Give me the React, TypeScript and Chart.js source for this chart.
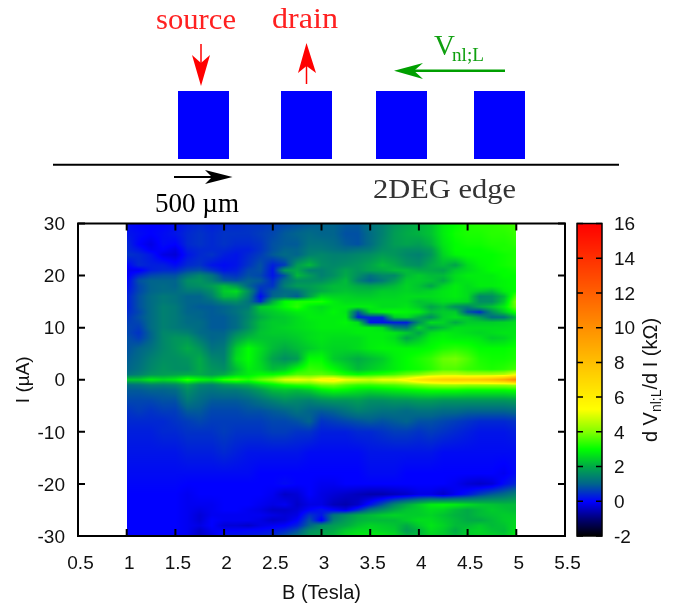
import React, { useEffect, useRef } from "react";
import { Chart, registerables } from "chart.js";

Chart.register(...registerables);

// Magnetic field columns (Tesla)
const fieldB = [1, 1.125, 1.25, 1.375, 1.5, 1.625, 1.75, 1.875, 2, 2.125, 2.25, 2.375, 2.5, 2.625, 2.75, 2.875, 3, 3.125, 3.25, 3.375, 3.5, 3.625, 3.75, 3.875, 4, 4.125, 4.25, 4.375, 4.5, 4.625, 4.75, 4.875, 5];
// Current rows (uA)
const currentI = [30, 28, 26, 25, 24, 22, 21, 20, 19, 18, 17, 16, 15, 14, 13, 12, 11, 10, 9, 8, 6, 4, 2, 1, 0, -1, -2, -4, -6, -8, -10, -14, -18, -20, -22, -24, -25, -26, -27, -28, -29, -30];

const rowP30 = [.1, 0, 0, 0, .1, .3, .4, .3, .4, .4, .5, .5, .6, .7, .8, .9, 1, 1, .9, .9, 1.2, 1.4, 1.7, 1.9, 2.1, 2.3, 2.8, 3, 3.2, 3.3, 3.3, 3.4, 3.5];
const rowP28 = [.2, .1, 0, .1, .2, .4, .5, .4, .5, .5, .5, .6, .7, .9, 1, 1.1, 1, 1, .8, .8, 1.1, 1.4, 1.8, 2, 2.1, 2.3, 2.8, 3.1, 3.2, 3.2, 3.3, 3.3, 3.4];
const rowP26 = [.4, 0, -.2, .1, 0, .4, .5, .4, .5, .4, .4, .5, .8, .9, .9, 1.2, 1.2, 1.1, .9, .8, 1.1, 1.5, 1.8, 1.9, 1.8, 2.1, 2.7, 3, 3.1, 3.1, 3.2, 3.2, 3.3];
const rowP25 = [.4, .2, -.1, 0, -.2, .3, .4, .4, .4, .3, .3, .5, .8, 1, 1, 1.3, 1.3, 1.2, 1.1, 1.2, 1.3, 1.6, 1.7, 1.6, 1.6, 1.8, 2.6, 3, 3, 3, 3.1, 3.2, 3.2];
const rowP24 = [.5, .4, .2, -.2, -.3, .2, .4, .5, .3, .2, .4, .6, .9, 1.1, 1, 1.4, 1.5, 1.4, 1.4, 1.5, 1.6, 1.8, 1.7, 1.5, 1.4, 1.7, 2.5, 2.9, 3, 3, 3, 3.1, 3.2];
const rowP22 = [0, .4, .3, .3, .1, .4, .5, .2, .1, .2, .5, .8, .3, .6, 1.8, 2.2, 1.6, 1.5, 1.6, 1.7, 1.9, 2.2, 2, 1.7, 1.6, 2, 2.2, 1.9, 2.6, 2.9, 3, 3.1, 3.2];
const rowP21 = [-.1, -.1, .3, .4, .4, .7, .8, .5, .2, .3, .7, .8, .2, 1.8, 2, 1.4, 1.4, 1.6, 1.9, 1.7, 1.9, 2, 2.2, 2.2, 2, 2, 1.9, 2.4, 2.6, 2.8, 3, 3, 3.1];
const rowP20 = [-.1, .4, .7, .8, .8, 1.2, 1.5, 1.2, .6, .5, .8, .7, .2, .8, 2.2, 1.8, 1.4, 1.6, 2, 1.6, 1.2, 1.5, 1.5, 2.2, 2.4, 2.2, 2.2, 2.6, 2.8, 2.8, 2.8, 3, 3];
const rowP19 = [0, .8, 1, 1, 1, 1.6, 1.7, 1.4, .9, .8, 1, .9, .4, 1.2, 1.6, 1.6, 1.6, 1.9, 2.2, 1.4, 1, 1.3, 1.8, 2.4, 2.4, 2.3, 2, 2.6, 2.7, 2.8, 2.8, 2.9, 3];
const rowP18 = [.1, .7, 1, 1.1, 1, 1.5, 1.6, 1.8, 2.2, 1.8, 1, .6, .5, 1.4, 1.8, 1.8, 2, 2.2, 2.2, 2, 1.9, 2, 2.2, 2.5, 2.3, 1.9, 2.5, 2.8, 2.6, 2.8, 2.8, 2.9, 3];
const rowP17 = [.2, .7, 1, 1.1, 1.1, 1.3, 1.3, 1.6, 2.4, 2.6, 1.6, .4, .9, 1.1, 1.2, 1.7, 2, 2.2, 2.3, 2.2, 2.2, 2.4, 2.4, 2.5, 2.4, 2.5, 2.7, 2.8, 2.6, 2.4, 2.2, 2.8, 3];
const rowP16 = [.3, .8, 1.1, 1.3, 1.2, 1, 1, 1.4, 2.2, 2.2, 1.4, .1, 1, 1.2, .9, 1.8, 2.6, 2.5, 2.5, 2.4, 2.4, 2.5, 2.5, 2.6, 2.6, 2.6, 2.7, 2.8, 2.6, 1.5, 1.6, 2.2, 3.6];
const rowP15 = [.3, .8, 1.1, 1.3, 1.2, 1, 1, 1.1, 1.5, 1.6, 1.2, .4, 2, 3, 3.2, 3.2, 3.2, 2.8, 2.6, 2.6, 2.6, 2.6, 2.6, 2.6, 2.3, 2.4, 2.6, 2.6, 2.5, 1.6, 1.6, 2.4, 4];
const rowP14 = [.3, .8, 1.1, 1.4, 1.3, 1, .9, .9, 1, 1.2, 1.3, 2.4, 2.6, 3, 3.3, 2.8, 2.6, 2.8, 2.8, 2.8, 2.8, 2.6, 2.6, 2.7, 2.4, 1.9, 2.2, 1.6, 1.4, 2, 2.3, 2.8, 3.8];
const rowP13 = [.4, .7, 1.1, 1.4, 1.3, 1, 1, .9, 1, 1.2, 1.5, 2.2, 2.4, 2.6, 2.8, 2.8, 2.7, 2.9, 2.7, .8, 2.6, 2.9, 3, 2.9, 2.8, 2.2, 2.4, 2.4, .8, .4, 1.6, 2.4, 3.2];
const rowP12 = [.5, .8, 1.1, 1.4, 1.3, 1.1, 1, .9, .9, 1.1, 1.5, 2, 2.3, 2.4, 2.6, 2.8, 2.8, 2.8, 2.8, .3, .4, .4, 2.4, 2.6, 2, 1.6, 2.4, 2.6, 2.3, 1.8, 1.1, 1.2, 2.2];
const rowP11 = [.6, .7, 1.1, 1.4, 1.3, 1.1, 1.1, .9, .9, 1.1, 1.6, 2.2, 2.4, 2.4, 2.6, 2.7, 2.8, 2.8, 2.9, 2.6, .2, .2, .3, .3, 1.6, 2.6, 2.5, 2, 2.4, 2.4, 2.4, 2.5, 2.6];
const rowP10 = [.7, .6, 1.1, 1.4, 1.3, 1.2, 1.1, .9, .9, 1.1, 1.6, 2.2, 2.4, 2.5, 2.6, 2.7, 2.8, 2.8, 2.8, 2.8, 2.8, 2.6, 1.4, 1.2, 2.5, 1.9, 2.2, 2.6, 2.6, 2.6, 2.6, 2.6, 2.7];
const rowP9 = [.7, .5, 1, 1.5, 1.5, 1.4, 1.1, 1, 1, 1.5, 1.9, 2.3, 2.4, 2.4, 2.5, 2.6, 2.7, 2.7, 2.7, 2.8, 2.8, 2.8, 2.7, 2.4, 1.9, 2.6, 2.8, 2.7, 2.6, 2.5, 2.6, 2.7, 2.7];
const rowP8 = [.8, .6, 1, 1.5, 1.7, 1.7, 1.3, 1, 1.1, 1.8, 2.2, 2.3, 2.3, 2.3, 2.4, 2.6, 2.7, 2.6, 2.6, 2.6, 2.8, 2.8, 2.6, 1.9, 2.3, 2.8, 2.9, 2.8, 2.8, 2.7, 2.4, 2.5, 2.8];
const rowP6 = [.8, 1, 1.2, 1.5, 1.7, 2, 1.7, 1.2, 1.3, 2.4, 3, 2.6, 2.2, 2, 2.2, 2.4, 2.6, 2.5, 2.5, 2.6, 2.8, 2.9, 2.9, 2.9, 2.9, 3, 3.2, 3.3, 3.2, 3, 3, 3, 3.1];
const rowP4 = [.9, 1.1, 1.4, 1.6, 1.6, 1.7, 2, 1.5, 1.4, 2.6, 3, 2.5, 1.9, 1.6, 1.8, 3, 3, 2.4, 2.2, 2, 2.2, 2.4, 2.8, 3, 3.2, 3.4, 3.8, 3.9, 3.6, 3.2, 3.1, 3.1, 3.2];
const rowP2 = [1, 1.2, 1.5, 1.7, 1.6, 1.6, 2, 1.7, 1.6, 2.2, 2.8, 2.6, 2.2, 2.4, 3, 3.4, 3.3, 3, 2.6, 2.2, 2.4, 2.6, 2.8, 3, 3.1, 3.3, 3.6, 3.6, 3.4, 3.3, 3.2, 3.3, 3.5];
const rowP1 = [1.2, 1.4, 1.7, 1.8, 1.9, 2, 2, 1.8, 2, 2.5, 2.8, 3, 3, 3.2, 3.6, 3.6, 3.7, 3.5, 3.2, 3, 3.2, 3.3, 3.5, 3.8, 4, 4.4, 4.6, 4.6, 4.4, 4.4, 4.4, 4.5, 5.2];
const rowZero = [2.4, 2.4, 2.8, 2.6, 2.8, 3.4, 3, 2.8, 3.4, 3.6, 3.3, 3.8, 4.2, 5, 5.2, 5, 5.6, 5.8, 5.2, 5, 4.8, 5.2, 5.2, 5.6, 6.4, 7, 7.4, 7.6, 7.6, 7.8, 8.2, 9, 10.5];
const rowM1 = [1.1, 1.2, 1.4, 1.4, 1.5, 1.9, 1.5, 1.4, 1.7, 1.9, 2.1, 2.5, 2.8, 3.1, 3.3, 3.4, 3.8, 3.9, 3.6, 3.4, 3.4, 3.5, 3.6, 3.8, 4, 4.2, 4.3, 4.3, 4.2, 4.2, 4.2, 4.2, 4.3];
const rowM2 = [.9, .9, 1, 1, 1.1, 1.6, 1.3, 1.2, 1.3, 1.3, 1.5, 1.8, 2.2, 2.3, 2.2, 2.4, 2.8, 3, 2.9, 2.7, 2.6, 2.7, 2.8, 2.9, 3, 3.1, 3.1, 3.1, 3, 3, 3, 3, 3.1];
const rowM4 = [.7, .7, .7, .8, .8, 1.3, 1.1, .9, .9, .9, 1, 1.2, 1.4, 1.6, 1.5, 1.4, 1.6, 1.7, 1.7, 1.8, 1.6, 1.6, 1.7, 1.7, 1.8, 1.8, 1.7, 1.7, 1.7, 1.7, 1.7, 1.7, 1.8];
const rowM6 = [.5, .6, .5, .6, .6, .9, .9, .7, .7, .7, .8, .8, .9, 1, 1.2, 1, .9, 1, 1.2, 1.4, 1.3, 1.2, 1.2, 1.1, 1.2, 1.2, 1.1, 1.1, 1, 1, 1, 1, 1.1];
const rowM8 = [.4, .4, .4, .4, .5, .6, .7, .6, .6, .6, .6, .6, .7, .7, .8, 1, .5, .6, .7, .8, .9, .8, .9, 1, .8, .8, .7, .6, .5, .4, .4, .4, .5];
const rowM10 = [.3, .3, .3, .4, .4, .5, .5, .5, .6, .5, .5, .5, .6, .6, .5, .5, .3, .3, .3, .4, .4, .5, .6, .6, .5, .6, .5, .4, .3, .2, .2, .2, .3];
const rowM14 = [.2, .2, .2, .2, .2, .3, .3, .3, .4, .3, .2, .2, .2, .2, .2, .1, .1, .1, .1, .1, .2, .2, .2, .2, .2, .2, .1, .1, .1, .1, .1, .1, .1];
const rowM18 = [.1, .1, .1, .1, .1, .1, .1, .1, .1, .1, .1, 0, 0, 0, 0, 0, 0, 0, 0, 0, .1, .1, .1, 0, 0, 0, 0, 0, 0, 0, 0, -.1, .1];
const rowM20 = [.05, .05, .05, .05, .05, 0, 0, 0, 0, 0, 0, 0, 0, .1, 0, 0, -.1, -.1, 0, 0, 0, 0, 0, 0, 0, 0, 0, -.1, -.3, -.4, -.3, .1, .4];
const rowM22 = [0, 0, 0, 0, 0, -.1, 0, 0, 0, 0, 0, 0, -.1, -.4, -.3, 0, -.2, -.3, -.4, -.5, -.6, -.6, -.5, -.4, -.2, -.2, -.4, -.1, .2, .6, .9, 1.1, 1.4];
const rowM24 = [0, 0, 0, 0, 0, -.1, -.1, -.1, 0, 0, 0, -.1, -.2, -.1, -.4, -.2, -.2, -.5, -.6, -.4, .2, .8, 1.5, 2, 2.4, 2.8, 2.9, 2.8, 2.6, 2.4, 2.3, 2.2, 2.2];
const rowM25 = [0, 0, 0, 0, 0, -.1, -.2, -.1, 0, 0, -.1, -.2, -.4, -.4, -.3, 0, .2, 0, -.2, .4, 1.2, 1.6, 2, 2.3, 2.4, 2.6, 2.5, 2.2, 2, 2.2, 2.4, 2.3, 2.2];
const rowM26 = [0, 0, 0, 0, 0, -.1, -.3, -.1, -.1, -.1, -.1, -.1, -.2, -.3, -.2, .5, .2, 1.2, 1.6, 2, 2.2, 2.4, 2.5, 2.4, 2.4, 2.5, 2.3, 2.1, 2, 2.2, 2.3, 2.4, 2.4];
const rowM27 = [0, 0, 0, 0, 0, -.1, -.3, 0, -.1, -.1, -.1, -.2, -.4, -.3, 0, .8, -.1, 1.4, 1.8, 2.1, 2.2, 2.2, 2.2, 2.4, 2.6, 2.6, 2.4, 2.2, 2, 2, 2.2, 2.4, 2.5];
const rowM28 = [0, 0, 0, 0, 0, -.1, -.2, 0, -.3, -.3, -.4, -.2, -.1, 0, .3, 1, 1.6, 1.8, 2, 2.3, 2.5, 2.4, 2.3, 2, 2.4, 2.7, 2.5, 2.2, 2.2, 2.4, 2.2, 2.3, 2.6];
const rowM29 = [0, 0, 0, 0, 0, -.1, -.4, -.1, 0, 0, .1, .1, .2, .4, .8, 1.6, 1.8, 2, 2.4, 2.6, 2.6, 2.5, 2.4, 1.8, 2.1, 2.6, 2.4, 2, 2.4, 2.5, 2.3, 2.2, 2.7];
const rowM30 = [0, 0, 0, 0, 0, -.1, -.4, -.2, .2, .2, .2, .3, .4, .8, 1.2, 1.8, 2, 2.2, 2.6, 2.8, 2.8, 2.8, 2.6, 2.2, 2.2, 2.5, 2.4, 2.2, 2.4, 2.5, 2.5, 2.4, 2.8];

const gridRows = [rowP30, rowP28, rowP26, rowP25, rowP24, rowP22, rowP21, rowP20, rowP19, rowP18, rowP17, rowP16, rowP15, rowP14, rowP13, rowP12, rowP11, rowP10, rowP9, rowP8, rowP6, rowP4, rowP2, rowP1, rowZero, rowM1, rowM2, rowM4, rowM6, rowM8, rowM10, rowM14, rowM18, rowM20, rowM22, rowM24, rowM25, rowM26, rowM27, rowM28, rowM29, rowM30];

// Palette: value, r, g, b
const paletteStops = [
  [-2, 0, 0, 0], [-1, 0, 0, 120], [0, 0, 0, 255], [1, 0, 100, 140], [2, 0, 170, 70],
  [3, 0, 255, 0], [4, 130, 255, 0], [5.3, 255, 255, 0], [16, 255, 0, 0],
];
const colorbarMin = -2;
const colorbarMax = 16;

const textFont = "'Liberation Sans', Arial, sans-serif";
const inkColor = "#000";

function paletteRGB(v: number): number[] {
  const s = paletteStops;
  if (v <= s[0][0]) return s[0].slice(1);
  for (let i = 1; i < s.length; i++) {
    if (v <= s[i][0]) {
      const t = (v - s[i - 1][0]) / (s[i][0] - s[i - 1][0]);
      return [1, 2, 3].map((k) => s[i - 1][k] + t * (s[i][k] - s[i - 1][k]));
    }
  }
  return s[s.length - 1].slice(1);
}

function bracket(list: number[], v: number, descending: boolean): [number, number] {
  const n = list.length;
  for (let i = 0; i < n - 1; i++) {
    const a = list[i];
    const b = list[i + 1];
    if (descending ? v <= a && v >= b : v >= a && v <= b) return [i, (v - a) / (b - a)];
  }
  return [n - 2, 1];
}

const heatmapPlugin = {
  id: "heatmap",
  beforeDatasetsDraw(chart: any) {
    const { ctx, scales } = chart;
    const xs = scales.x;
    const ys = scales.y;
    const cb = scales.yc;
    const x0 = Math.round(xs.getPixelForValue(fieldB[0]));
    const x1 = Math.round(xs.getPixelForValue(fieldB[fieldB.length - 1]));
    const y0 = Math.round(ys.getPixelForValue(currentI[0]));
    const y1 = Math.round(ys.getPixelForValue(currentI[currentI.length - 1]));
    const w = x1 - x0;
    const h = y1 - y0;
    const image = ctx.createImageData(w, h);
    for (let py = 0; py < h; py++) {
      const [ri, rt] = bracket(currentI, ys.getValueForPixel(y0 + py + 0.5), true);
      for (let px = 0; px < w; px++) {
        const [ci, ct] = bracket(fieldB, xs.getValueForPixel(x0 + px + 0.5), false);
        const top = gridRows[ri][ci] * (1 - ct) + gridRows[ri][ci + 1] * ct;
        const bot = gridRows[ri + 1][ci] * (1 - ct) + gridRows[ri + 1][ci + 1] * ct;
        const rgb = paletteRGB(top * (1 - rt) + bot * rt);
        const o = (py * w + px) * 4;
        image.data[o] = rgb[0];
        image.data[o + 1] = rgb[1];
        image.data[o + 2] = rgb[2];
        image.data[o + 3] = 255;
      }
    }
    ctx.putImageData(image, x0, y0);

    // colour bar, drawn from its own scale
    const barL = chart.chartArea.right + 12;
    const barW = 25;
    const top = Math.round(cb.getPixelForValue(colorbarMax));
    const bottom = Math.round(cb.getPixelForValue(colorbarMin));
    for (let py = top; py < bottom; py++) {
      const rgb = paletteRGB(cb.getValueForPixel(py + 0.5));
      ctx.fillStyle = `rgb(${rgb[0]},${rgb[1]},${rgb[2]})`;
      ctx.fillRect(barL, py, barW, 1);
    }
  },
  afterDraw(chart: any) {
    const { ctx, chartArea: a, scales } = chart;
    ctx.save();
    ctx.strokeStyle = inkColor;
    ctx.lineWidth = 2;
    ctx.strokeRect(a.left, a.top, a.right - a.left, a.bottom - a.top);
    ctx.beginPath();
    const tick = 7;
    scales.x.ticks.forEach((t: any) => {
      const p = scales.x.getPixelForValue(t.value);
      ctx.moveTo(p, a.bottom);
      ctx.lineTo(p, a.bottom - tick);
      ctx.moveTo(p, a.top);
      ctx.lineTo(p, a.top + tick);
    });
    scales.y.ticks.forEach((t: any) => {
      const p = scales.y.getPixelForValue(t.value);
      ctx.moveTo(a.left, p);
      ctx.lineTo(a.left + tick, p);
      ctx.moveTo(a.right, p);
      ctx.lineTo(a.right - tick, p);
    });
    ctx.stroke();

    const barL = a.right + 12;
    const barW = 25;
    ctx.lineWidth = 1.5;
    ctx.strokeRect(barL, a.top, barW, a.bottom - a.top);
    ctx.beginPath();
    scales.yc.ticks.forEach((t: any) => {
      const p = scales.yc.getPixelForValue(t.value);
      ctx.moveTo(barL, p);
      ctx.lineTo(barL + 6, p);
      ctx.moveTo(barL + barW, p);
      ctx.lineTo(barL + barW - 6, p);
    });
    ctx.stroke();

    // colour bar title with its subscript
    ctx.translate(650, 380);
    ctx.rotate(-Math.PI / 2);
    ctx.fillStyle = "#111";
    ctx.textBaseline = "alphabetic";
    const big = `20px ${textFont}`;
    const small = `14px ${textFont}`;
    const parts: [string, string, number][] = [
      ["d V", big, 0],
      ["nl;L", small, 4],
      ["/d I (k\u03a9)", big, 0],
    ];
    let total = 0;
    parts.forEach(([s, f]) => {
      ctx.font = f;
      total += ctx.measureText(s).width;
    });
    let cx = -total / 2;
    parts.forEach(([s, f, dy]) => {
      ctx.font = f;
      ctx.fillText(s, cx, 7 + dy);
      cx += ctx.measureText(s).width;
    });
    ctx.restore();
  },
};

const Schematic = () => {
  const serif = "'Liberation Serif', 'Times New Roman', serif";
  const contactX = [178, 281, 376, 474];
  return (
    <svg width={679} height={222} style={{ position: "absolute", left: 0, top: 0 }}>
      {contactX.map((x) => (
        <rect key={x} x={x} y={91} width={51} height={68} fill="#0000ff" />
      ))}
      <line x1={53} y1={164.7} x2={619} y2={164.7} stroke="#000" strokeWidth={2} />
      <line x1={174} y1={177} x2={226} y2={177} stroke="#000" strokeWidth={2} />
      <path d="M232.5 177 L205 170 L212 177 L205 184 Z" fill="#000" />
      <line x1={201} y1={44} x2={201} y2={70} stroke="#ff0000" strokeWidth={1.5} />
      <path d="M201 86 L192 55 L201 63 L210 55 Z" fill="#ff0000" />
      <line x1={306.5} y1={84} x2={306.5} y2={60} stroke="#ff0000" strokeWidth={1.5} />
      <path d="M306.5 43 L298 73 L306.5 66 L316 73 Z" fill="#ff0000" />
      <line x1={505} y1={70.7} x2={405} y2={70.7} stroke="#009f00" strokeWidth={2.5} />
      <path d="M394 70.7 L423 63 L414 70.7 L423 79 Z" fill="#009f00" />
      <g fontFamily={serif}>
        <text x={156} y={29} fontSize={29} fill="#ff2020" textLength={80} lengthAdjust="spacingAndGlyphs">source</text>
        <text x={272} y={28} fontSize={29} fill="#ff2020" textLength={66} lengthAdjust="spacingAndGlyphs">drain</text>
        <text x={434} y={55} fontSize={29} fill="#10a010">V</text>
        <text x={452} y={61} fontSize={19} fill="#10a010" textLength={32} lengthAdjust="spacingAndGlyphs">nl;L</text>
        <text x={373} y={198} fontSize={28} fill="#333" textLength={143} lengthAdjust="spacingAndGlyphs">2DEG edge</text>
        <text x={155} y={212} fontSize={28} fill="#000" textLength={84} lengthAdjust="spacingAndGlyphs">500 {"\u00b5"}m</text>
      </g>
    </svg>
  );
};

export default function App() {
  const ref = useRef<HTMLCanvasElement>(null);
  useEffect(() => {
    const cells: { x: number; y: number; v: number }[] = [];
    currentI.forEach((y, r) => fieldB.forEach((x, c) => cells.push({ x, y, v: gridRows[r][c] })));
    const tickFont = { family: textFont, size: 19 };
    const chart = new Chart(ref.current as HTMLCanvasElement, {
      type: "scatter",
      data: { datasets: [{ data: cells, pointRadius: 0, pointHoverRadius: 0 }] },
      plugins: [heatmapPlugin],
      options: {
        animation: false,
        responsive: false,
        events: [],
        layout: { padding: { top: 223.5, left: 0, right: 0, bottom: 0 } },
        plugins: { legend: { display: false }, tooltip: { enabled: false } },
        scales: {
          x: {
            type: "linear",
            min: 0.5,
            max: 5.5,
            grid: { display: false },
            border: { display: false },
            ticks: { stepSize: 0.5, color: "#111", font: tickFont, padding: 8, labelOffset: 2.5, maxRotation: 0, autoSkip: false, callback: (v: any) => String(v) },
            title: { display: true, text: "B (Tesla)", color: "#111", font: { family: textFont, size: 20 }, padding: { top: 0, bottom: 1 } },
            afterFit: (s: any) => { s.height = 70; },
          },
          y: {
            type: "linear",
            min: -30,
            max: 30,
            grid: { display: false },
            border: { display: false },
            ticks: { stepSize: 10, color: "#111", font: tickFont, padding: 5, labelOffset: 1.5, autoSkip: false },
            title: { display: true, text: "I (\u00b5A)", color: "#111", font: { family: textFont, size: 19 }, padding: { top: 12, bottom: 0 } },
            afterFit: (s: any) => { s.width = 78; },
          },
          yc: {
            type: "linear",
            position: "right",
            min: colorbarMin,
            max: colorbarMax,
            grid: { display: false },
            border: { display: false },
            ticks: { stepSize: 2, color: "#111", font: tickFont, padding: 41, labelOffset: 1.5, autoSkip: false },
            afterFit: (s: any) => { s.width = 114; },
          },
        },
      } as any,
    });
    return () => chart.destroy();
  }, []);
  return (
    <div style={{ position: "absolute", left: 0, top: 0, width: 679, height: 606, background: "#fff" }}>
      <canvas ref={ref} width={679} height={606} style={{ position: "absolute", left: 0, top: 0 }} />
      <Schematic />
    </div>
  );
}
